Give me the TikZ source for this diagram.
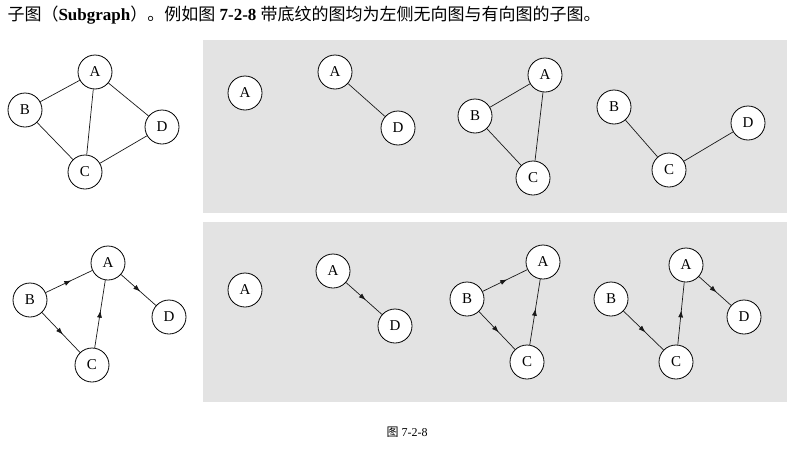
\documentclass[tikz,border=0pt]{standalone}
\usepackage{fontspec}
\setmainfont{Liberation Serif}
\newfontfamily\cjk{Noto Sans CJK SC}
\usetikzlibrary{decorations.markings,arrows.meta}
\begin{document}
\begin{tikzpicture}[x=1pt,y=-1pt,
  vtx/.style={circle,draw,line width=0.8pt,fill=white,minimum size=34pt,inner sep=0pt,font=\fontsize{15}{15}\selectfont},
  edge/.style={draw,gray!20!black,line width=0.7pt},
  dedge/.style={edge,postaction={decorate},decoration={markings,mark=at position 0.55 with {\arrow{Latex[length=7pt,width=5pt]}}}},
  panel/.style={fill=black!11,draw=none}]
\useasboundingbox (0,0) rectangle (794,458);
\node[anchor=west,font=\fontsize{17}{17}\selectfont] (title) at (4,15) {{\cjk 子图（}\textbf{Subgraph}{\cjk ）。例如图} \textbf{7-2-8} {\cjk 带底纹的图均为左侧无向图与有向图的子图。}};
\fill[panel] (203,40) rectangle (787,213);
\fill[panel] (203,222) rectangle (787,402);
\node[font=\fontsize{12}{12}\selectfont] (cap) at (407,432) {{\cjk 图} 7-2-8};
% top left
\node[vtx] (a1) at (95,72) {A}; \node[vtx] (b1) at (25,110) {B};
\node[vtx] (c1) at (85,172) {C}; \node[vtx] (d1) at (162,127) {D};
\draw[edge] (a1)--(b1) (a1)--(c1) (a1)--(d1) (b1)--(c1) (c1)--(d1);
\node[vtx] (p1a) at (245,93) {A};
\node[vtx] (p2a) at (335,72) {A}; \node[vtx] (p2d) at (398,128) {D};
\draw[edge] (p2a)--(p2d);
\node[vtx] (p3a) at (545,75) {A}; \node[vtx] (p3b) at (475,116) {B}; \node[vtx] (p3c) at (533,178) {C};
\draw[edge] (p3a)--(p3b) (p3b)--(p3c) (p3c)--(p3a);
\node[vtx] (p4b) at (614,107) {B}; \node[vtx] (p4c) at (669,170) {C}; \node[vtx] (p4d) at (748,123) {D};
\draw[edge] (p4b)--(p4c) (p4c)--(p4d);
% bottom left
\node[vtx] (a2) at (108,263) {A}; \node[vtx] (b2) at (30,300) {B};
\node[vtx] (c2) at (92,365) {C}; \node[vtx] (d2) at (169,317) {D};
\draw[dedge] (b2)--(a2); \draw[dedge] (b2)--(c2); \draw[dedge] (c2)--(a2); \draw[dedge] (a2)--(d2);
\node[vtx] (q1a) at (245,290) {A};
\node[vtx] (q2a) at (333,271) {A}; \node[vtx] (q2d) at (395,326) {D};
\draw[dedge] (q2a)--(q2d);
\node[vtx] (q3a) at (543,262) {A}; \node[vtx] (q3b) at (467,299) {B}; \node[vtx] (q3c) at (527,362) {C};
\draw[dedge] (q3b)--(q3a); \draw[dedge] (q3b)--(q3c); \draw[dedge] (q3c)--(q3a);
\node[vtx] (q4a) at (686,265) {A}; \node[vtx] (q4b) at (611,299) {B}; \node[vtx] (q4c) at (676,362) {C}; \node[vtx] (q4d) at (744,317) {D};
\draw[dedge] (q4b)--(q4c); \draw[dedge] (q4c)--(q4a); \draw[dedge] (q4a)--(q4d);
\end{tikzpicture}
\end{document}
